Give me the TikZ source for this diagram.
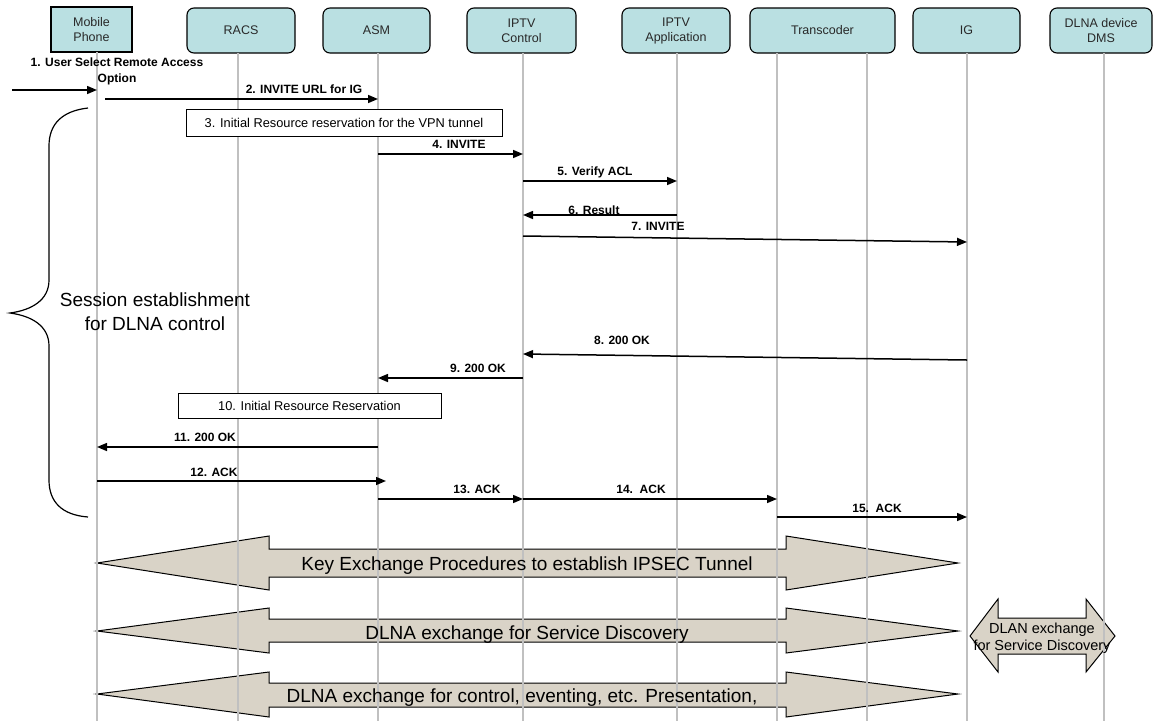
\documentclass[tikz,border=0pt]{standalone}
\usepackage{fontspec}
\setmainfont{Liberation Sans}
\usetikzlibrary{arrows.meta}
\definecolor{hdrfill}{RGB}{186,224,226}
\definecolor{blkfill}{RGB}{217,211,199}
\definecolor{lifegray}{RGB}{192,192,192}
\definecolor{hdrtext}{RGB}{40,40,40}
\begin{document}
\begin{tikzpicture}[x=1pt,y=-1pt,
  hdr/.style={draw=black, fill=hdrfill, rounded corners=7pt, minimum height=45pt,
    align=center, inner sep=0pt, line width=1.1pt, text=hdrtext,
    font=\fontsize{12.5}{15}\selectfont},
  life/.style={draw=lifegray, line width=1.3pt},
  msg/.style={-{Triangle[length=10pt,width=8pt]}, line width=1.5pt, black},
  lbl/.style={anchor=base, inner sep=0pt, font=\bfseries\fontsize{12}{16}\selectfont},
  resbox/.style={draw=black, fill=white, line width=1pt, inner sep=0pt,
    font=\fontsize{12.8}{15}\selectfont},
  blk/.style={draw=black, fill=blkfill, line width=1pt, line join=miter},
  blktext/.style={anchor=base, inner sep=0pt, font=\fontsize{19}{22}\selectfont},
  smalltext/.style={anchor=base, inner sep=0pt, align=center,
    font=\fontsize{14.5}{17}\selectfont},
  bigtext/.style={anchor=base, inner sep=0pt, align=center,
    font=\fontsize{19}{24}\selectfont},
  brace/.style={draw=black, line width=1.2pt}
]
\useasboundingbox (0,0) rectangle (1154,721);

% header boxes
\node[hdr, sharp corners, minimum width=81pt] (mobile) at (91.5,29.5) {Mobile\\Phone};
\node[hdr, minimum width=108pt] (racsbox) at (241,30.5) {RACS};
\node[hdr, minimum width=107pt] (asmbox) at (376.5,30.5) {ASM};
\node[hdr, minimum width=109pt] (ctlbox) at (521.5,30.5) {IPTV\\Control};
\node[hdr, minimum width=108pt] (appbox) at (676,30.5) {IPTV\\Application};
\node[hdr, minimum width=145pt] (trbox) at (822.5,30.5) {Transcoder};
\node[hdr, minimum width=107pt] (igbox) at (966.5,30.5) {IG};
\node[hdr, minimum width=102pt] (dmsbox) at (1101,30.5) {DLNA device\\DMS};

% lifeline tops
\coordinate (mp) at (97,52);
\coordinate (racs) at (238,53);
\coordinate (asm) at (378,53);
\coordinate (ctl) at (523,53);
\coordinate (app) at (677,53);
\coordinate (trA) at (777,53);
\coordinate (trB) at (867,53);
\coordinate (ig) at (967,53);
\coordinate (dms) at (1104,53);

% block arrows
\draw[blk] (97,563) -- (269,536) -- (269,549) -- (786,549) -- (786,536) -- (958,563)
  -- (786,590) -- (786,577) -- (269,577) -- (269,590) -- cycle;
\draw[blk] (97,631) -- (269,608) -- (269,619) -- (786,619) -- (786,608) -- (958,631)
  -- (786,653) -- (786,642) -- (269,642) -- (269,653) -- cycle;
\draw[blk] (97,694) -- (269,672) -- (269,683) -- (786,683) -- (786,672) -- (958,694)
  -- (786,717) -- (786,707) -- (269,707) -- (269,717) -- cycle;
\draw[blk] (970,636) -- (998,599) -- (998,618) -- (1086,618) -- (1086,599) -- (1115,636)
  -- (1086,672) -- (1086,654) -- (998,654) -- (998,672) -- cycle;

% lifelines
\foreach \c in {mp,racs,asm,ctl,app,trA,trB,ig,dms}
  \draw[life] (\c) -- (\c |- 0,721);

% big arrow texts
\node[blktext] (kex) at (527,570) {Key Exchange Procedures to establish IPSEC Tunnel};
\node[blktext] (sd) at (527,639.5) {DLNA exchange for Service Discovery};
\node[blktext] (ctrl) at (522,702) {DLNA exchange for control, eventing, etc. Presentation,};
\node[smalltext] (dlan) at (1042,650.5) {DLAN exchange\\for Service Discovery};

% reservation boxes
\node[resbox, minimum width=316pt, minimum height=27pt] (res3) at (344,122.5)
  {3. Initial Resource reservation for the VPN tunnel};
\node[resbox, minimum width=263pt, minimum height=25pt] (res10) at (309.5,405.5)
  {10. Initial Resource Reservation};

% brace
\draw[brace] (88,108) .. controls (62,111) and (49,124) .. (49,146) -- (49,280)
  .. controls (49,300) and (32,310) .. (10,313)
  .. controls (32,316) and (49,326) .. (49,346) -- (49,480)
  .. controls (49,502) and (62,515) .. (88,517);
\node[bigtext] (sess) at (155,330.8) {Session establishment\\for DLNA control};

% messages
\coordinate (start1) at (12,90);
\draw[msg] (start1) -- (mp |- 0,90);
\draw[msg] ([xshift=8pt]mp |- 0,99) -- (asm |- 0,99);
\draw[msg] (asm |- 0,154) -- (ctl |- 0,154);
\draw[msg] (ctl |- 0,181) -- (app |- 0,181);
\draw[msg] (app |- 0,215) -- (ctl |- 0,215);
\draw[msg] (ctl |- 0,236) -- (ig |- 0,242);
\draw[msg] (ig |- 0,360) -- (ctl |- 0,354);
\draw[msg] (ctl |- 0,378) -- (asm |- 0,378);
\draw[msg] (asm |- 0,447) -- (mp |- 0,447);
\draw[msg] (mp |- 0,481) -- ([xshift=8pt]asm |- 0,481);
\draw[msg] (asm |- 0,499) -- (ctl |- 0,499);
\draw[msg] (ctl |- 0,499) -- (trA |- 0,499);
\draw[msg] (trA |- 0,517) -- (ig |- 0,517);

% message labels
\node[lbl, align=center] (l1) at (117,82.4) {1. User Select Remote Access\\Option};
\node[lbl] (l2) at (304,93.4) {2. INVITE URL for IG};
\node[lbl] (l4) at (459,148.4) {4. INVITE};
\node[lbl] (l5) at (595,175.4) {5. Verify ACL};
\node[lbl] (l6) at (594,214.4) {6. Result};
\node[lbl] (l7) at (658,230.4) {7. INVITE};
\node[lbl] (l8) at (622,344.4) {8. 200 OK};
\node[lbl] (l9) at (478,372.4) {9. 200 OK};
\node[lbl] (l11) at (205,441.4) {11. 200 OK};
\node[lbl] (l12) at (214,476.4) {12. ACK};
\node[lbl] (l13) at (477,493.4) {13. ACK};
\node[lbl] (l14) at (641,493.4) {14.\ \ ACK};
\node[lbl] (l15) at (877,512.4) {15.\ \ ACK};
\end{tikzpicture}
\end{document}
